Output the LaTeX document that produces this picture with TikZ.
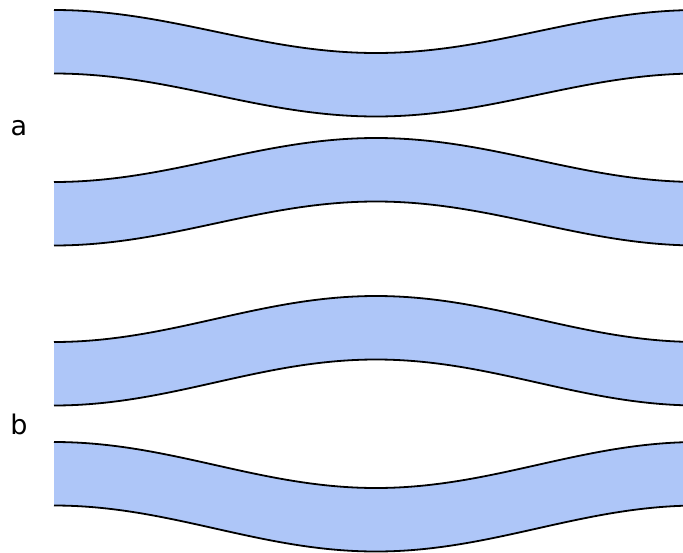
\documentclass[tikz,border=0pt]{standalone}
\usepackage{fontspec}
\setmainfont{DejaVu Sans}
\usepackage{tikz}
\definecolor{bandblue}{HTML}{AEC6F8}
\tikzset{
  band/.style={fill=bandblue,draw=none},
  rim/.style={line width=1.8pt,draw=black},
  tag/.style={font=\fontsize{27}{30}\selectfont,anchor=base,inner sep=0pt},
}

\begin{document}
\begin{tikzpicture}[x=1pt,y=-1pt]
\useasboundingbox (0,0) rectangle (683,552);
\clip (0,0) rectangle (683,552);

% ================= BANDS (left y / middle y) =================
\foreach \yl/\ym in {10/53,182/138,342/296,442/488}{
  \fill[band] (54,\yl) .. controls (171,\yl) and (259,\ym) .. (376,\ym)
        .. controls (493,\ym) and (581,\yl) .. (698,\yl)
        -- (698,\yl+63.5) .. controls (581,\yl+63.5) and (493,\ym+63.5) .. (376,\ym+63.5)
        .. controls (259,\ym+63.5) and (171,\yl+63.5) .. (54,\yl+63.5) -- cycle;
  \draw[rim] (54,\yl) .. controls (171,\yl) and (259,\ym) .. (376,\ym)
        .. controls (493,\ym) and (581,\yl) .. (698,\yl);
  \draw[rim] (54,\yl+63.5) .. controls (171,\yl+63.5) and (259,\ym+63.5) .. (376,\ym+63.5)
        .. controls (493,\ym+63.5) and (581,\yl+63.5) .. (698,\yl+63.5);
}

% ================= LABELS =================
\node[tag] (lbla) at (19,135) {a};
\node[tag] (lblb) at (19,434) {b};

\end{tikzpicture}
\end{document}
